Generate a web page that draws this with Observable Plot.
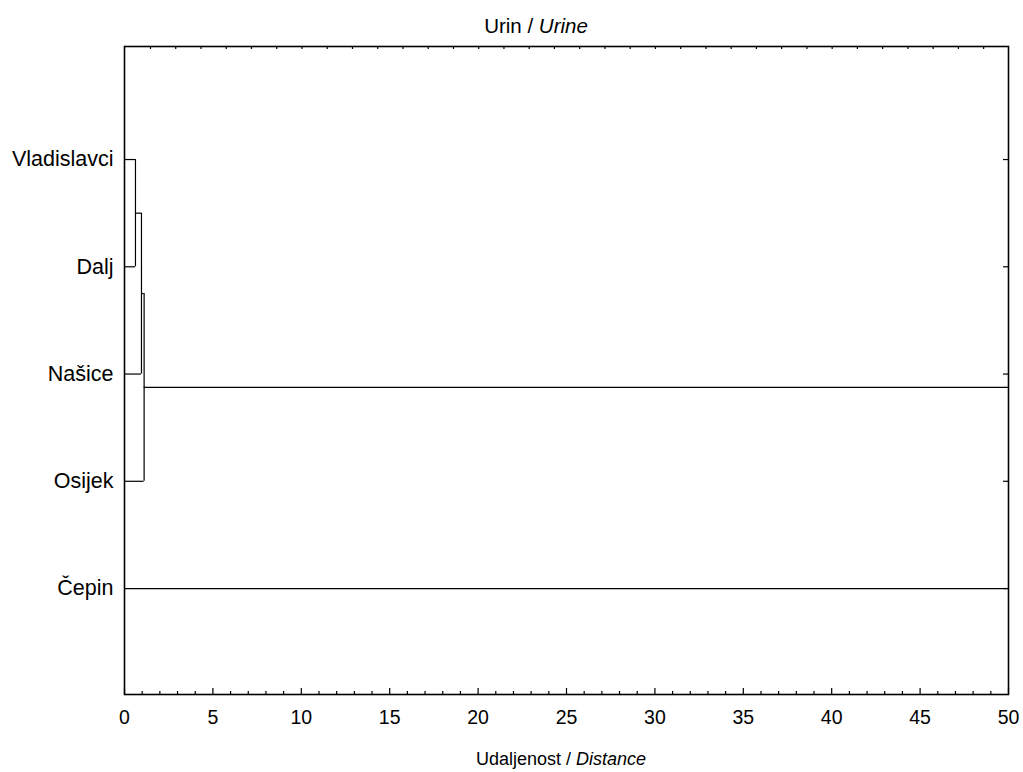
<!DOCTYPE html>
<html><head><meta charset="utf-8">
<script src="https://cdn.jsdelivr.net/npm/d3@7"></script>
<script src="https://cdn.jsdelivr.net/npm/@observablehq/plot@0.6"></script>
<style>
body{margin:0;background:#fff;}
#chart svg{font-family:"Liberation Sans",Arial,sans-serif;}
#chart g[aria-label="y-axis tick label"]{font-size:21.5px !important;}
#chart g[aria-label="x-axis tick label"]{font-size:19.5px !important;}
</style>
</head><body><div id="chart"></div>
<script>
// Leaves of the dendrogram, top to bottom
const leaves = ["Vladislavci", "Dalj", "Našice", "Osijek", "Čepin"];
// Merge steps (linkage distances)
const mergeLeft = ["Vladislavci", "C1", "C2", "C3"];
const mergeRight = ["Dalj", "Našice", "Osijek", "Čepin"];
const mergeName = ["C1", "C2", "C3", "C4"];
const mergeHeight = [0.62, 0.96, 1.11, 62];
// Axis ticks
const xMajorTicks = [0, 5, 10, 15, 20, 25, 30, 35, 40, 45, 50];
const xMinorTicks = d3.range(1, 50, 1).filter(v => v % 5 !== 0);
const xTopTicks = d3.range(1.47, 49, 1.428);

const X_MAX = 50;
const Y_TOP = -0.054, Y_BOTTOM = 5.988;

// Build node positions
const node = new Map();
leaves.forEach((l, i) => node.set(l, {y: i + 1, h: 0}));
const hsegs = [], vsegs = [];
mergeName.forEach((name, i) => {
  const a = node.get(mergeLeft[i]), b = node.get(mergeRight[i]);
  const h = mergeHeight[i];
  hsegs.push({y: a.y, x1: a.h, x2: h});
  hsegs.push({y: b.y, x1: b.h, x2: h});
  vsegs.push({x: h, y1: a.y, y2: b.y});
  node.set(name, {y: (a.y + b.y) / 2, h});
});

const pxPerUnitY = 648 / (Y_BOTTOM - Y_TOP);
const pxPerUnitX = 884 / X_MAX;

const chart = Plot.plot({
  width: 1023,
  height: 772,
  marginLeft: 124,
  marginRight: 15,
  marginTop: 46,
  marginBottom: 78,
  style: {fontFamily: "Liberation Sans, Arial, sans-serif", fontSize: "18px", color: "#000", background: "#fff"},
  x: {domain: [0, X_MAX]},
  y: {domain: [Y_BOTTOM, Y_TOP]},
  marks: [
    Plot.ruleY(hsegs, {y: "y", x1: "x1", x2: "x2", stroke: "#000", strokeWidth: 1.2, clip: true}),
    Plot.ruleX(vsegs, {x: "x", y1: "y1", y2: "y2", stroke: "#000", strokeWidth: 1.2, clip: true}),
    // bottom ticks (inward)
    Plot.ruleX(xMajorTicks, {x: d => d, y1: Y_BOTTOM, y2: Y_BOTTOM - 6 / pxPerUnitY, stroke: "#000", strokeWidth: 1.2}),
    Plot.ruleX(xMinorTicks, {x: d => d, y1: Y_BOTTOM, y2: Y_BOTTOM - 3 / pxPerUnitY, stroke: "#000", strokeWidth: 1.2}),
    // top ticks (inward)
    Plot.ruleX(xTopTicks, {x: d => d, y1: Y_TOP, y2: Y_TOP + 3 / pxPerUnitY, stroke: "#000", strokeWidth: 1.2}),
    // right ticks at leaves (inward)
    Plot.ruleY(leaves.map((l, i) => i + 1), {y: d => d, x1: X_MAX - 5 / pxPerUnitX, x2: X_MAX, stroke: "#000", strokeWidth: 1.2}),
    Plot.axisX({ticks: xMajorTicks, tickSize: 0, tickPadding: 16, label: null, fontSize: 19.5}),
    Plot.axisY({ticks: leaves.map((l, i) => i + 1), tickFormat: v => leaves[v - 1], tickSize: 0, tickPadding: 11, label: null, fontSize: 21.5}),
    Plot.frame({stroke: "#000", strokeWidth: 1.6})
  ]
});
document.getElementById("chart").appendChild(chart);

const svg = d3.select(chart);
const title = svg.append("text").attr("x", 536).attr("y", 33).attr("text-anchor", "middle")
  .attr("font-size", 20.5).attr("fill", "#000");
title.append("tspan").text("Urin / ");
title.append("tspan").attr("font-style", "italic").text("Urine");
const xl = svg.append("text").attr("x", 561).attr("y", 765).attr("text-anchor", "middle")
  .attr("font-size", 18).attr("fill", "#000");
xl.append("tspan").text("Udaljenost / ");
xl.append("tspan").attr("font-style", "italic").text("Distance");
</script>
</body></html>
